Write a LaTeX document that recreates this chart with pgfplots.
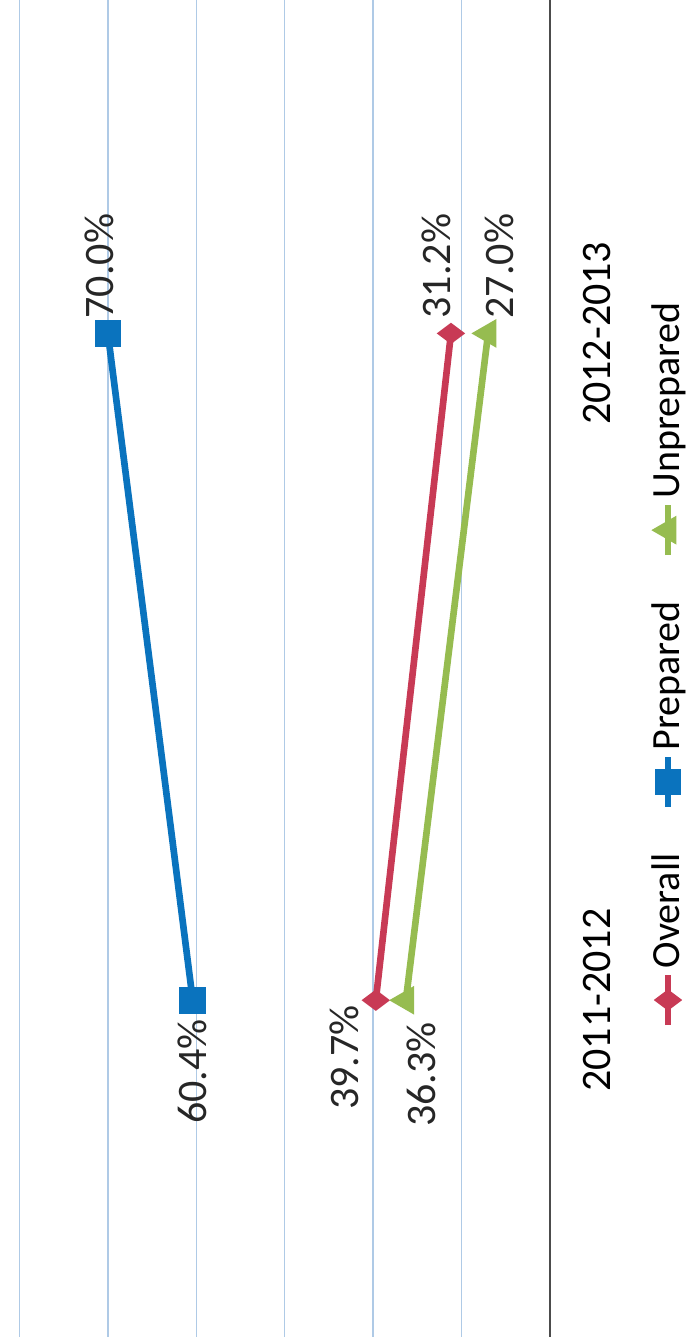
\documentclass[border=0pt]{standalone}
\usepackage{fontspec}
\setmainfont{Carlito}
\usepackage{pgfplots}
\usepackage{pgfplotstable}
\pgfplotsset{compat=1.18}
\definecolor{cblue}{RGB}{10,115,190}
\definecolor{cred}{RGB}{200,58,85}
\definecolor{cgreen}{RGB}{150,188,80}
\definecolor{cgrid}{RGB}{175,202,230}

% y: 0 = 2011-2012, 1 = 2012-2013
\pgfplotstableread{
x y
39.7 0
31.2 1
}\overall
\pgfplotstableread{
x y
60.4 0
70.0 1
}\prepared
\pgfplotstableread{
x y
36.3 0
27.0 1
}\unprepared

\pgfplotsset{
  lbl/.style n args={4}{% dx at 2011-12, dx at 2012-13, dy at 2011-12, dy at 2012-13
    point meta=x,
    visualization depends on={y \as \yy},
    nodes near coords={\pgfmathprintnumber[fixed,fixed zerofill,precision=1]{\pgfplotspointmeta}\%},
    every node near coord/.append style={
      xshift={(\yy*(#2)+(1-\yy)*(#1))*1pt},
      yshift={(\yy*(#4)+(1-\yy)*(#3))*1pt},
      rotate=90, anchor=center, inner sep=0pt, text=black!85,
      font=\fontsize{12.6}{15}\selectfont},
  },
  shortleg/.style={legend image code/.code={\draw[mark repeat=2,mark phase=2] plot coordinates {(0pt,0pt) (7.5pt,0pt) (15pt,0pt)};}},
}

\begin{document}
\begin{tikzpicture}
\useasboundingbox (0,0) rectangle (207.6pt,401.1pt);
\begin{axis}[
  at={(0,0)}, anchor=south west,
  scale only axis, width=165pt, height=401.1pt,
  x dir=reverse, xmin=20, xmax=82.2, ymin=-0.505, ymax=1.5,
  clip=false,
  axis line style={draw=none},
  /pgf/number format/assume math mode=true,
  xtick={30,40,50,60,70,80}, xticklabels={},
  xmajorgrids, ymajorgrids=false,
  major grid style={cgrid, line width=0.45pt},
  extra x ticks={20}, extra x tick labels={},
  extra x tick style={grid=major, major grid style={black!70, line width=0.7pt}},
  major tick length=0pt,
  ytick={0,1}, yticklabels={2011-2012,2012-2013},
  yticklabel pos=right,
  yticklabel style={xshift=9.9pt, rotate=90, anchor=north, inner sep=0pt, font=\fontsize{12.6}{15}\selectfont},
]
\addplot[cred, line width=2pt, mark=diamond*, mark size=2.6pt, mark options={rotate=90, fill=cred}, lbl={-9.3}{-4.5}{-17.2}{20.2}] table[x=x,y=y] {\overall};
\addplot[cblue, line width=2pt, mark=square*, mark size=3pt, mark options={fill=cblue}, lbl={0}{-2.7}{-21.4}{20.2}] table[x=x,y=y] {\prepared};
\addplot[cgreen, line width=2pt, mark=triangle*, mark size=3pt, mark options={rotate=90, fill=cgreen}, lbl={4.5}{3.3}{-22.3}{20.2}] table[x=x,y=y] {\unprepared};
\end{axis}
\begin{scope}[transform canvas={rotate=90}]
\begin{axis}[
  hide axis, scale only axis, width=10pt, height=10pt,
  at={(201.9pt,-200.4pt)}, anchor=center,
  xmin=0, xmax=1, ymin=0, ymax=1,
  legend columns=-1,
  legend style={at={(0.5,0.5)}, anchor=center,
    draw=none, fill=none, font=\fontsize{12}{14}\selectfont,
    nodes={inner sep=1pt},
    /tikz/every even column/.append style={column sep=12pt}},
]
\addlegendimage{cred, line width=2pt, mark=diamond*, mark size=2.6pt, mark options={fill=cred}, shortleg}
\addlegendentry{Overall}
\addlegendimage{cblue, line width=2pt, mark=square*, mark size=3pt, mark options={fill=cblue}, shortleg}
\addlegendentry{Prepared}
\addlegendimage{cgreen, line width=2pt, mark=triangle*, mark size=3pt, mark options={fill=cgreen}, shortleg}
\addlegendentry{Unprepared}
\end{axis}
\end{scope}
\end{tikzpicture}
\end{document}
